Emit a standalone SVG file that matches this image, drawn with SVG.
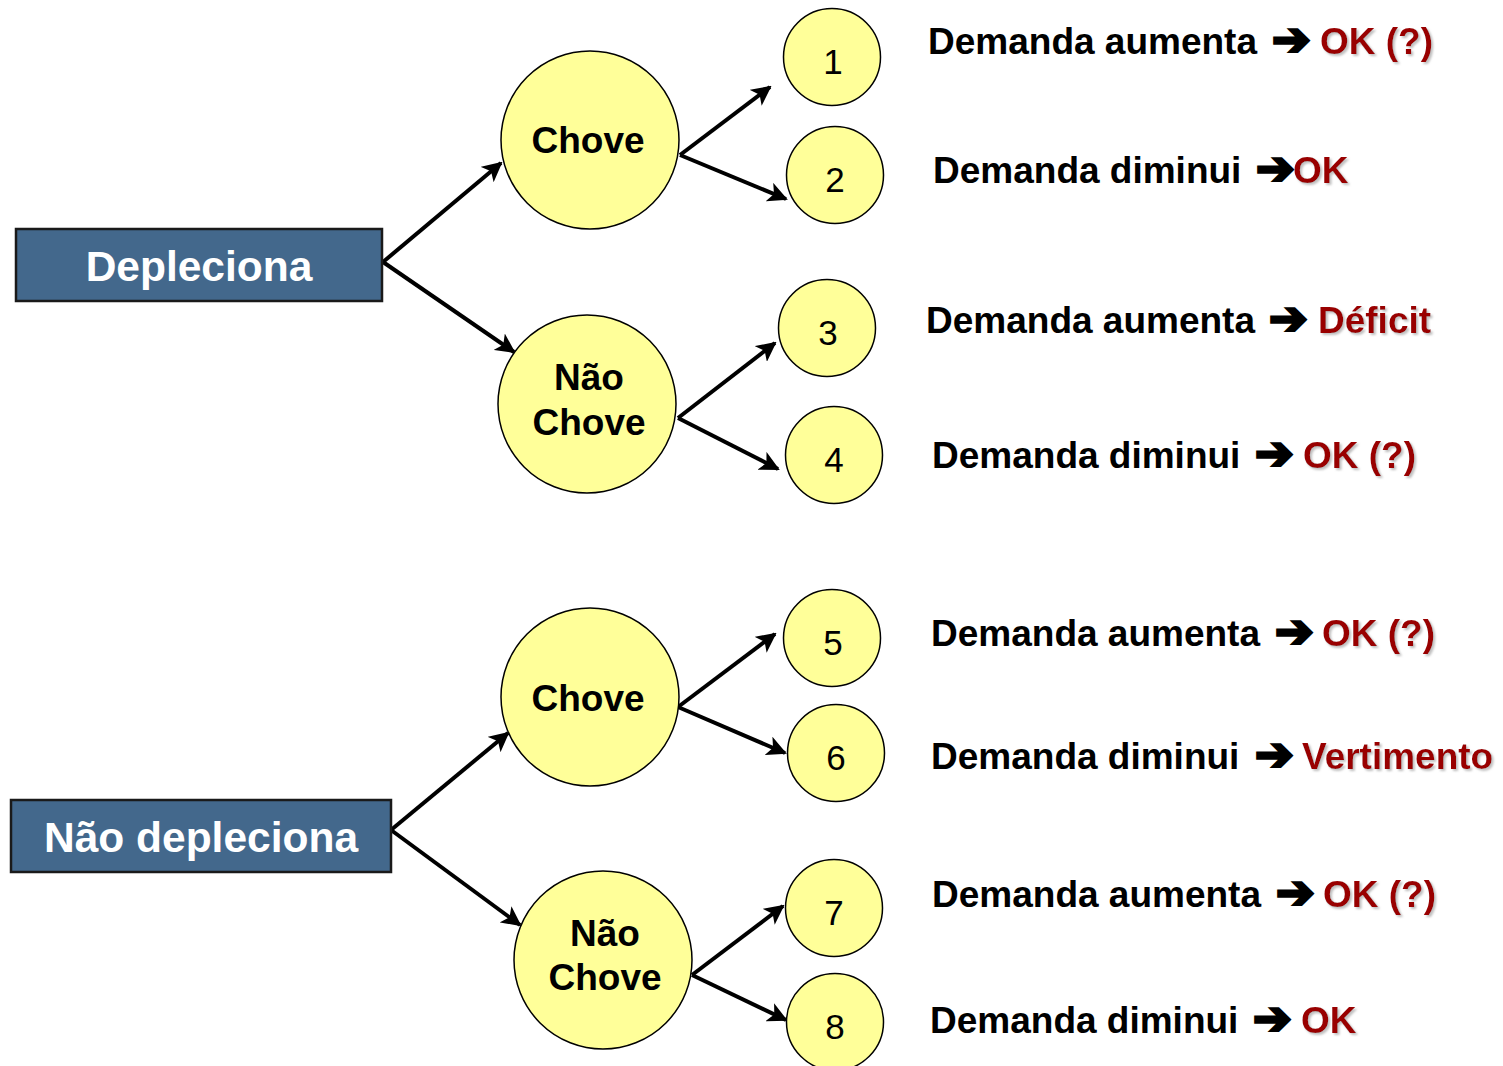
<svg xmlns="http://www.w3.org/2000/svg" width="1503" height="1066" viewBox="0 0 1503 1066">
<style>
.box{fill:#43688c;stroke:#1a1a1a;stroke-width:2.5}
.big{fill:#ffff99;stroke:#000;stroke-width:1.5}
.small{fill:#ffff99;stroke:#000;stroke-width:1.5}
.bt{font-family:"Liberation Sans",Arial,sans-serif;font-weight:bold;font-size:42.5px;fill:#fff;text-anchor:middle}
.ct{font-family:"Liberation Sans",Arial,sans-serif;font-weight:bold;font-size:37px;fill:#000;text-anchor:middle}
.nt{font-family:"Liberation Sans",Arial,sans-serif;font-size:35px;fill:#000;text-anchor:middle}
.lt{font-family:"Liberation Sans",Arial,sans-serif;font-weight:bold;font-size:37px;fill:#000}
.ar{font-family:"DejaVu Sans",sans-serif;font-size:46px;fill:#000;stroke:#000;stroke-width:3}
.rt{font-family:"Liberation Sans",Arial,sans-serif;font-weight:bold;font-size:37px;fill:#990000;filter:url(#sh)}
.con line{stroke:#000;stroke-width:4;marker-end:url(#ah)}
</style>
<defs>
<marker id="ah" viewBox="0 0 10 10" refX="9" refY="5" markerWidth="5" markerHeight="5" orient="auto" markerUnits="strokeWidth">
<path d="M0,0 L10,5 L0,10 L2.5,5 z" fill="#000"/>
</marker>
<filter id="sh" x="-10%" y="-20%" width="130%" height="150%">
<feDropShadow dx="2" dy="2" stdDeviation="0.8" flood-color="#b0b0b0" flood-opacity="0.8"/>
</filter>
</defs>
<rect width="1503" height="1066" fill="#fff"/>
<g class="con">
<line x1="383" y1="262" x2="501" y2="163"/>
<line x1="383" y1="262" x2="514" y2="352"/>
<line x1="680" y1="155" x2="770" y2="87"/>
<line x1="680" y1="155" x2="786" y2="199"/>
<line x1="678" y1="418" x2="775" y2="343"/>
<line x1="678" y1="418" x2="778" y2="469"/>
<line x1="391" y1="830" x2="508" y2="733"/>
<line x1="391" y1="830" x2="520" y2="925"/>
<line x1="678" y1="707" x2="775" y2="634"/>
<line x1="678" y1="707" x2="785" y2="753"/>
<line x1="692" y1="975" x2="783" y2="906"/>
<line x1="692" y1="975" x2="786" y2="1020"/>
</g>
<g id="depleciona"><rect class="box" x="16" y="229" width="366" height="72"/><text class="bt" x="199" y="281">Depleciona</text></g>
<g id="nao-depleciona"><rect class="box" x="11" y="800" width="380" height="72"/><text class="bt" x="201" y="852">Não depleciona</text></g>
<g id="chove1"><circle class="big" cx="590" cy="140" r="89"/><text class="ct" x="588" y="153">Chove</text></g>
<g id="naochove1"><circle class="big" cx="587" cy="404" r="89"/><text class="ct" x="589" y="390">Não</text><text class="ct" x="589" y="435">Chove</text></g>
<g id="chove2"><circle class="big" cx="590" cy="697" r="89"/><text class="ct" x="588" y="711">Chove</text></g>
<g id="naochove2"><circle class="big" cx="603" cy="960" r="89"/><text class="ct" x="605" y="946">Não</text><text class="ct" x="605" y="990">Chove</text></g>
<g id="n1"><circle class="small" cx="832" cy="57" r="48.5"/><text class="nt" x="833" y="74">1</text></g>
<g id="n2"><circle class="small" cx="835" cy="175" r="48.5"/><text class="nt" x="835" y="192">2</text></g>
<g id="n3"><circle class="small" cx="827" cy="328" r="48.5"/><text class="nt" x="828" y="345">3</text></g>
<g id="n4"><circle class="small" cx="834" cy="455" r="48.5"/><text class="nt" x="834" y="472">4</text></g>
<g id="n5"><circle class="small" cx="832" cy="638" r="48.5"/><text class="nt" x="833" y="655">5</text></g>
<g id="n6"><circle class="small" cx="836" cy="753" r="48.5"/><text class="nt" x="836" y="770">6</text></g>
<g id="n7"><circle class="small" cx="834" cy="908" r="48.5"/><text class="nt" x="834" y="925">7</text></g>
<g id="n8"><circle class="small" cx="835" cy="1022" r="48.5"/><text class="nt" x="835" y="1039">8</text></g>
<g id="label1"><text class="lt" x="928" y="54">Demanda aumenta</text><text class="ar" x="1272" y="55">➔</text><text class="rt" x="1320" y="54">OK (?)</text></g>
<g id="label2"><text class="lt" x="933" y="183">Demanda diminui</text><text class="ar" x="1256" y="184">➔</text><text class="rt" x="1293" y="183">OK</text></g>
<g id="label3"><text class="lt" x="926" y="333">Demanda aumenta</text><text class="ar" x="1269" y="334">➔</text><text class="rt" x="1318" y="333">Déficit</text></g>
<g id="label4"><text class="lt" x="932" y="468">Demanda diminui</text><text class="ar" x="1255" y="469">➔</text><text class="rt" x="1303" y="468">OK (?)</text></g>
<g id="label5"><text class="lt" x="931" y="646">Demanda aumenta</text><text class="ar" x="1275" y="647">➔</text><text class="rt" x="1322" y="646">OK (?)</text></g>
<g id="label6"><text class="lt" x="931" y="769">Demanda diminui</text><text class="ar" x="1255" y="770">➔</text><text class="rt" x="1302" y="769">Vertimento</text></g>
<g id="label7"><text class="lt" x="932" y="907">Demanda aumenta</text><text class="ar" x="1276" y="908">➔</text><text class="rt" x="1323" y="907">OK (?)</text></g>
<g id="label8"><text class="lt" x="930" y="1033">Demanda diminui</text><text class="ar" x="1253" y="1034">➔</text><text class="rt" x="1301" y="1033">OK</text></g>
</svg>
